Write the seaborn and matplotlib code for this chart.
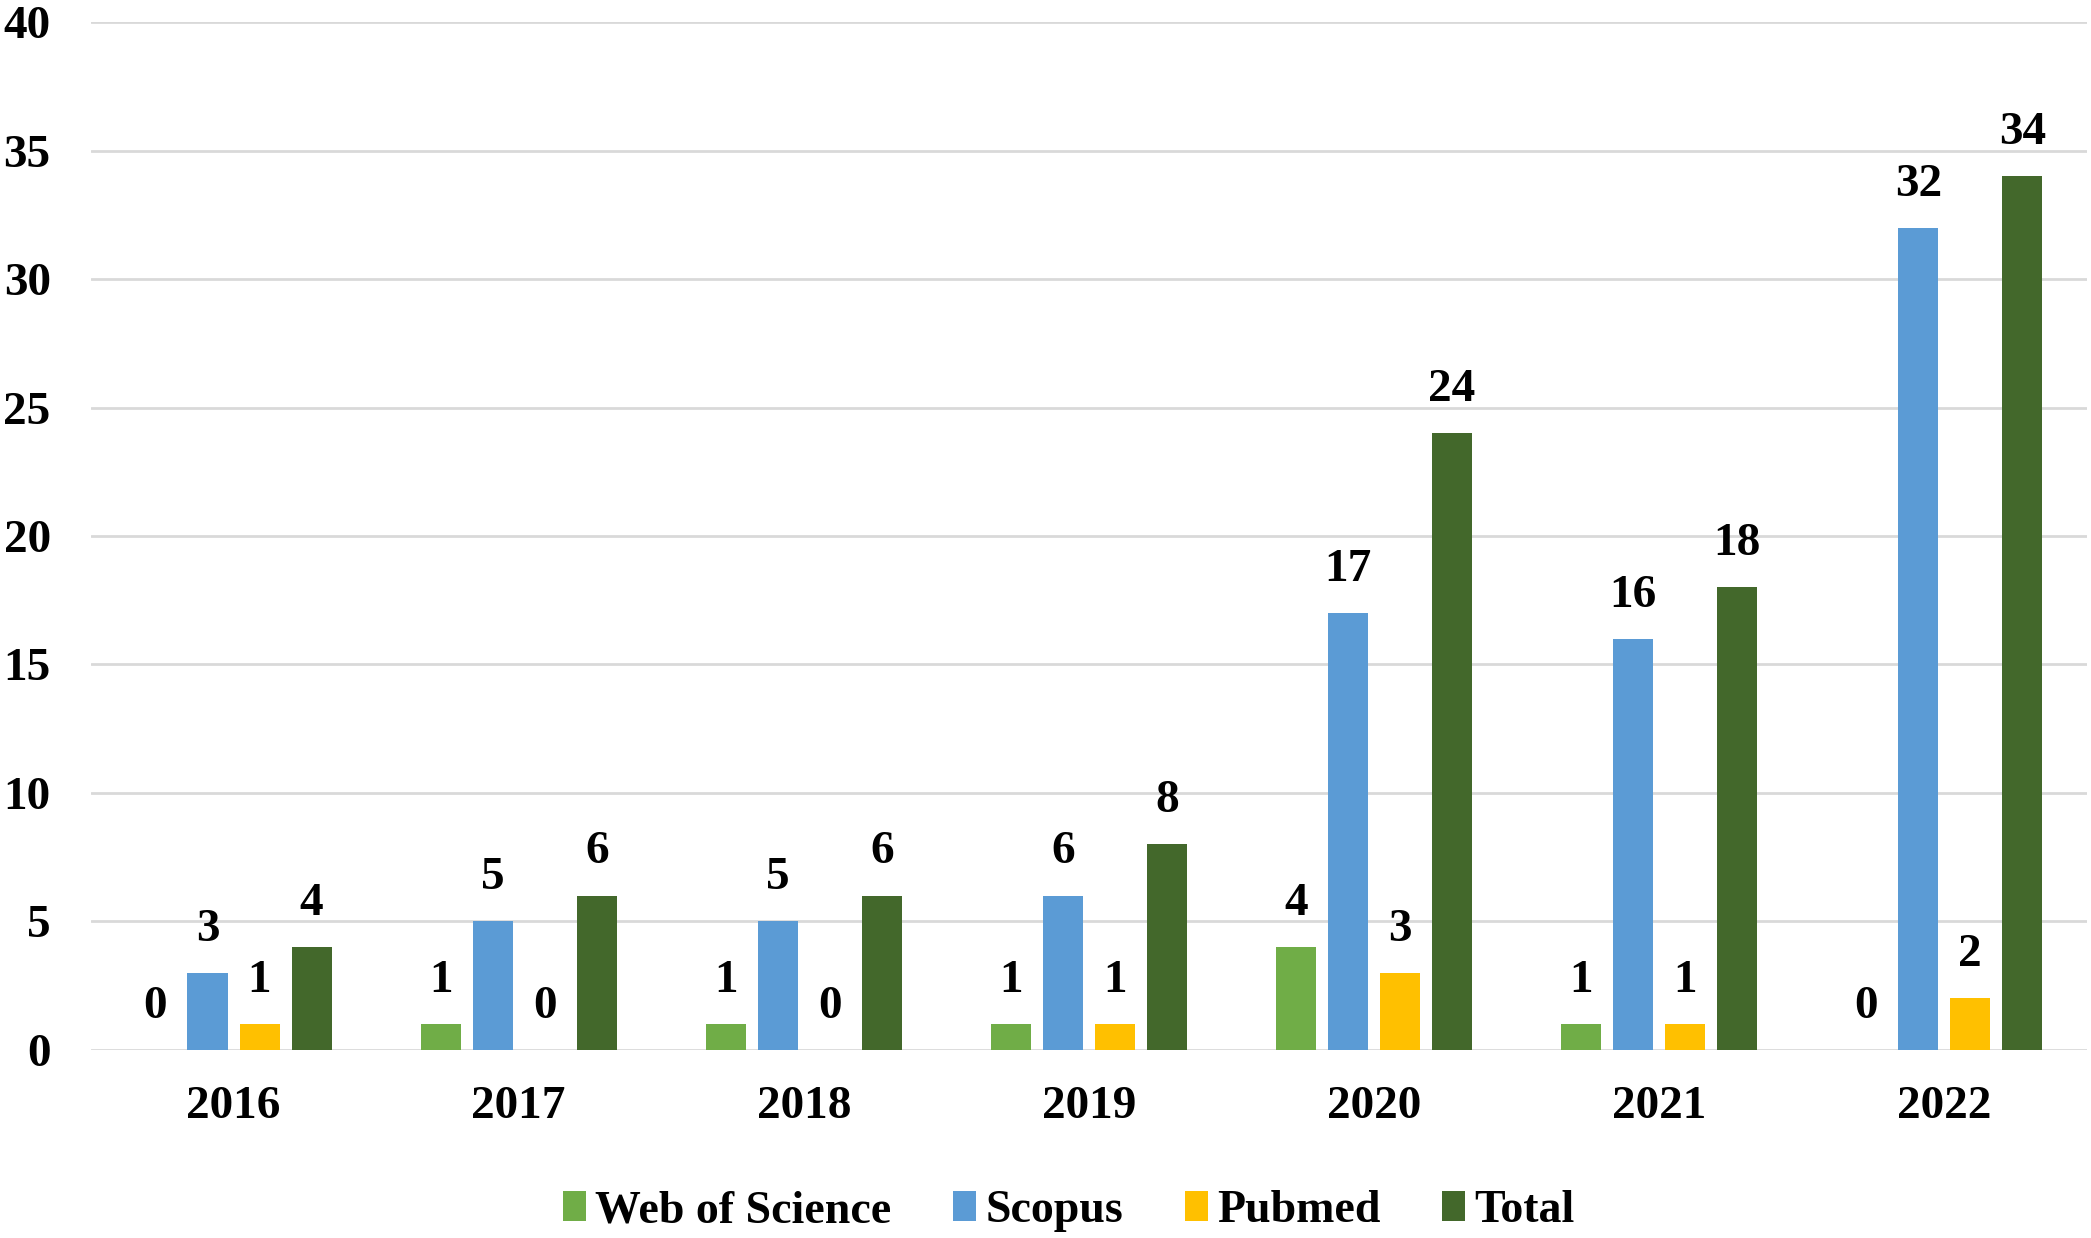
import matplotlib
matplotlib.use("Agg")
import matplotlib.pyplot as plt
import seaborn as sns
import pandas as pd

years = ["2016", "2017", "2018", "2019", "2020", "2021", "2022"]
web_of_science = [0, 1, 1, 1, 4, 1, 0]
scopus = [3, 5, 5, 6, 17, 16, 32]
pubmed = [1, 0, 0, 1, 3, 1, 2]
total = [4, 6, 6, 8, 24, 18, 34]
series_names = ["Web of Science", "Scopus", "Pubmed", "Total"]
colors = ["#70AD47", "#5B9BD5", "#FFC000", "#43682B"]
y_ticks = [0, 5, 10, 15, 20, 25, 30, 35, 40]

sns.set_theme(style="white")
plt.rcParams["font.family"] = ["Liberation Serif", "DejaVu Serif"]
plt.rcParams["font.weight"] = "bold"
plt.rcParams["text.color"] = "black"
plt.rcParams["xtick.color"] = "black"
plt.rcParams["ytick.color"] = "black"

rows = []
for name, vals in zip(series_names, [web_of_science, scopus, pubmed, total]):
    for y, v in zip(years, vals):
        rows.append({"year": y, "source": name, "value": v})
df = pd.DataFrame(rows)

fig = plt.figure(figsize=(20.91, 12.38), dpi=100)
ax = fig.add_axes([0.0435, 0.152, 0.9545, 0.830])

sns.barplot(data=df, x="year", y="value", hue="source", order=years,
            hue_order=series_names, palette=colors, saturation=1,
            width=0.73, gap=0.23, errorbar=None, ax=ax, linewidth=0)

for cont in ax.containers:
    ax.bar_label(cont, fmt="%d", padding=16, fontsize=34, fontweight="bold",
                 color="black")

ax.set_ylim(0, 40)
ax.set_xlim(-0.5, len(years) - 0.5)
ax.set_yticks(y_ticks)
ax.yaxis.grid(True, color="#D9D9D9", linewidth=2)
ax.set_axisbelow(True)
for s in ax.spines.values():
    s.set_visible(False)
ax.tick_params(axis="both", length=0, labelsize=34, labelcolor="black")
ax.tick_params(axis="y", pad=29)
ax.tick_params(axis="x", pad=26)
for lab in ax.get_xticklabels() + ax.get_yticklabels():
    lab.set_fontweight("bold")
ax.set_xlabel("")
ax.set_ylabel("")

leg = ax.legend(loc="center", bbox_to_anchor=(0.49, -0.157), ncol=4,
                frameon=False, fontsize=33, handlelength=0.5, handleheight=0.6,
                handletextpad=0.2, columnspacing=1.35)
for t in leg.get_texts():
    t.set_fontweight("bold")
    t.set_color("black")

fig.savefig("out.png", dpi=100)
